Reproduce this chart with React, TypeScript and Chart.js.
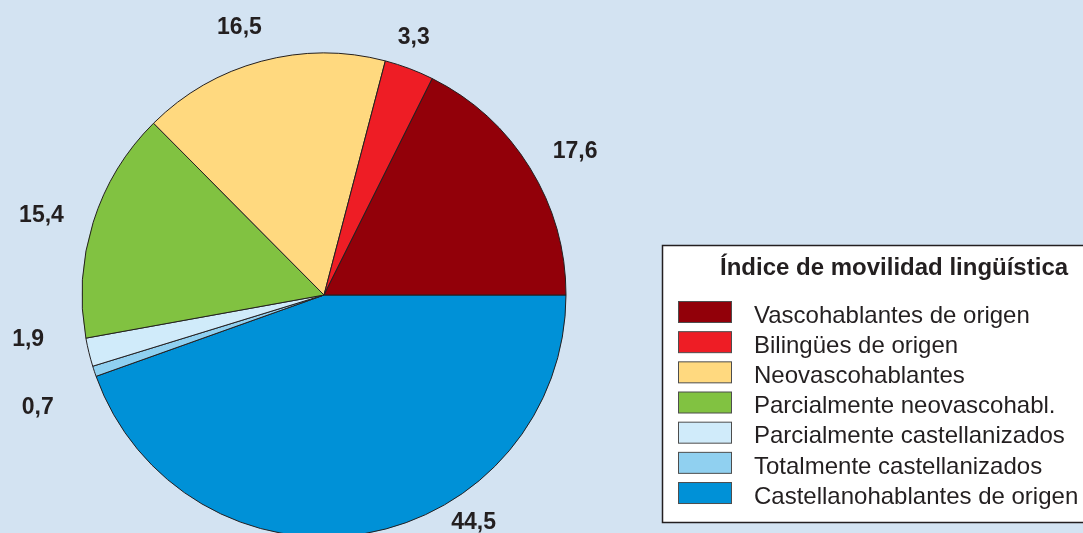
import React, { useEffect, useRef } from "react";
import { Chart, registerables } from "chart.js";

Chart.register(...registerables);

// ---- Data (legend order) ----
const categories: string[] = [
  "Vascohablantes de origen",
  "Bilingües de origen",
  "Neovascohablantes",
  "Parcialmente neovascohabl.",
  "Parcialmente castellanizados",
  "Totalmente castellanizados",
  "Castellanohablantes de origen",
];
const values: number[] = [17.6, 3.3, 16.5, 15.4, 1.9, 0.7, 44.5];
const valueLabels: string[] = ["17,6", "3,3", "16,5", "15,4", "1,9", "0,7", "44,5"];
const legendTitle = "Índice de movilidad lingüística";

// ---- Styles ----
const colors: string[] = [
  "#920009",
  "#ee1d25",
  "#ffd97f",
  "#81c241",
  "#d0ebfa",
  "#90d0f0",
  "#0091d7",
];
// label placement: angular shift (deg, counter-clockwise) from slice mid-angle, and distance from centre (px)
const labelAngleShift: number[] = [-1.7, 1.5, 2.4, 1.4, -5.4, 2.8, 23.7];
const labelDistance: number[] = [290, 274, 282, 294, 299, 307, 271];

const BG = "#d3e3f2";
const INK = "#231f20";
const FONT = "'Liberation Sans', Arial, sans-serif";

const n = values.length;
// The original runs counter-clockwise from 3 o'clock; Chart.js runs clockwise, so reverse.
const revIdx = values.map((_, i) => n - 1 - i);

const labelPlugin = {
  id: "valueLabels",
  afterDatasetsDraw(chart: any) {
    const ctx: CanvasRenderingContext2D = chart.ctx;
    const meta = chart.getDatasetMeta(0);
    ctx.save();
    ctx.fillStyle = INK;
    ctx.font = `bold 23px ${FONT}`;
    ctx.textAlign = "center";
    ctx.textBaseline = "alphabetic";
    meta.data.forEach((arc: any, j: number) => {
      const i = revIdx[j];
      const mid = (arc.startAngle + arc.endAngle) / 2; // canvas angle, clockwise
      const a = -mid + (labelAngleShift[i] * Math.PI) / 180;
      const d = labelDistance[i];
      const x = arc.x + d * Math.cos(a);
      const y = arc.y - d * Math.sin(a);
      ctx.fillText(valueLabels[i], x, y + 8.2);
    });
    ctx.restore();
  },
};

const legendPlugin = {
  id: "boxLegend",
  afterDraw(chart: any) {
    const ctx: CanvasRenderingContext2D = chart.ctx;
    ctx.save();
    const bx = 662.5, by = 245.5, bw = 440, bh = 277;
    ctx.fillStyle = "#ffffff";
    ctx.fillRect(bx, by, bw, bh);
    ctx.strokeStyle = INK;
    ctx.lineWidth = 1.5;
    ctx.strokeRect(bx, by, bw, bh);

    ctx.fillStyle = INK;
    ctx.font = `bold 24px ${FONT}`;
    ctx.textAlign = "left";
    ctx.textBaseline = "alphabetic";
    ctx.fillText(legendTitle, 720, 275);

    const rowH = 30.17;
    categories.forEach((label, i) => {
      const top = 301 + i * rowH;
      ctx.fillStyle = colors[i];
      ctx.fillRect(678.5, top + 0.5, 53, 21);
      ctx.strokeStyle = "#4d4d4d";
      ctx.lineWidth = 1;
      ctx.strokeRect(678.5, top + 0.5, 53, 21);
      ctx.fillStyle = INK;
      ctx.font = `24px ${FONT}`;
      ctx.fillText(label, 754, top + 21.7);
    });
    ctx.restore();
  },
};

export default function App() {
  const canvasRef = useRef<HTMLCanvasElement | null>(null);

  useEffect(() => {
    document.body.style.margin = "0";
    document.body.style.background = BG;
    const canvas = canvasRef.current;
    if (!canvas) return;
    const chart = new Chart(canvas, {
      type: "pie",
      data: {
        labels: revIdx.map((i) => categories[i]),
        datasets: [
          {
            data: revIdx.map((i) => values[i]),
            backgroundColor: revIdx.map((i) => colors[i]),
            borderColor: INK,
            borderWidth: 1,
            radius: 242,
          } as any,
        ],
      },
      options: {
        animation: false,
        responsive: false,
        devicePixelRatio: 1,
        rotation: 90,
        layout: { padding: { left: 0, right: 1083 - 648, top: 0, bottom: 10 } },
        plugins: {
          legend: { display: false },
          tooltip: { enabled: false },
        },
      } as any,
      plugins: [labelPlugin, legendPlugin],
    });
    return () => chart.destroy();
  }, []);

  return (
    <div
      style={{
        position: "relative",
        width: 1083,
        height: 533,
        overflow: "hidden",
        background: BG,
      }}
    >
      <canvas
        ref={canvasRef}
        width={1083}
        height={600}
        style={{ display: "block", width: 1083, height: 600 }}
      />
    </div>
  );
}
